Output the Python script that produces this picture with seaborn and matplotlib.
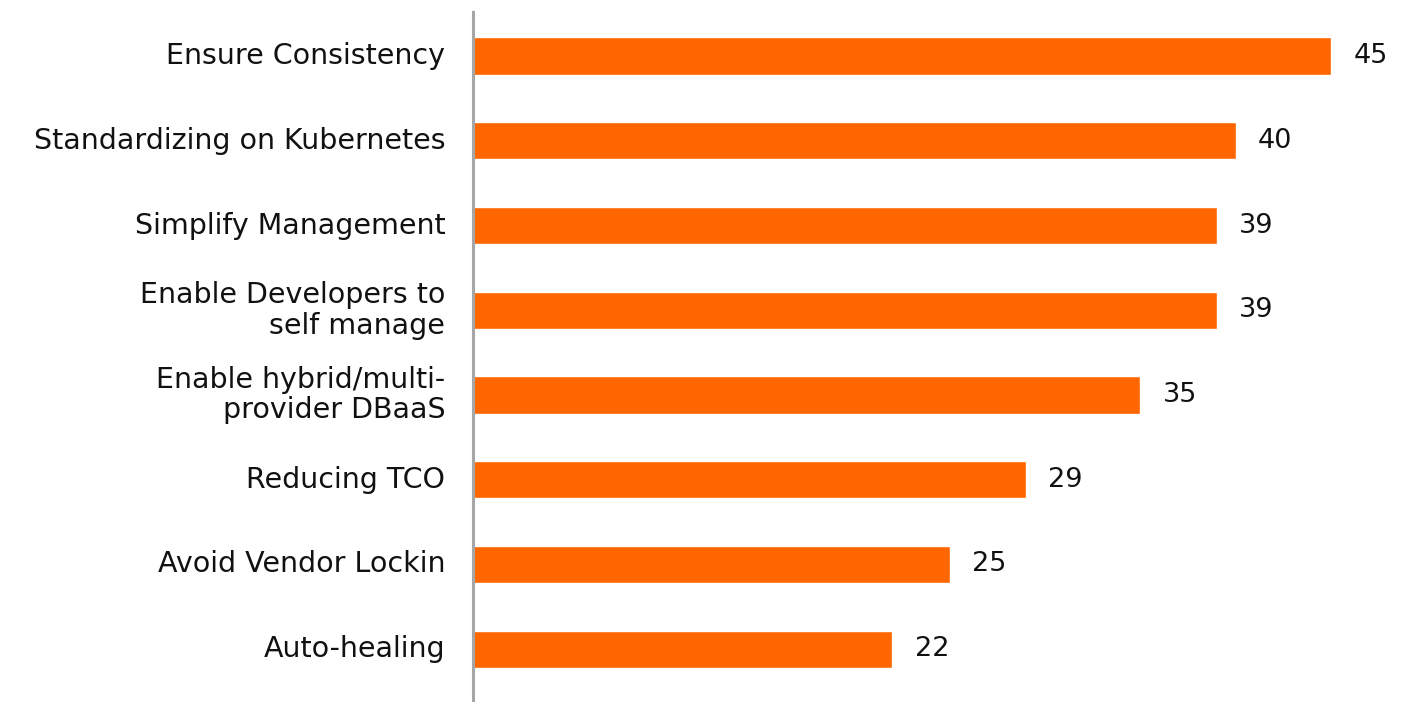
import matplotlib
matplotlib.use("Agg")
import matplotlib.pyplot as plt
import seaborn as sns
import pandas as pd

categories = [
    "Ensure Consistency",
    "Standardizing on Kubernetes",
    "Simplify Management",
    "Enable Developers to\nself manage",
    "Enable hybrid/multi-\nprovider DBaaS",
    "Reducing TCO",
    "Avoid Vendor Lockin",
    "Auto-healing",
]
values = [45, 40, 39, 39, 35, 29, 25, 22]

df = pd.DataFrame({"reason": categories, "count": values})

sns.set_theme(style="white")
plt.rcParams["font.family"] = ["DejaVu Sans"]

fig = plt.figure(figsize=(14.01, 7.02), dpi=100)
ax = fig.add_axes([473 / 1401, 2 / 702, 928 / 1401, 688 / 702])

sns.barplot(data=df, x="count", y="reason", color="#FF6600", saturation=1,
            width=0.44, orient="h", ax=ax)

ax.set_xlim(0, 48.67)
ax.set_ylim(7.60, -0.52)
ax.set_xlabel("")
ax.set_ylabel("")
ax.set_xticks([])
for s in ["top", "right", "bottom"]:
    ax.spines[s].set_visible(False)
ax.spines["left"].set_color("#a6a6a6")
ax.spines["left"].set_linewidth(2.2)
ax.tick_params(axis="y", length=0, pad=20, labelsize=20.5, labelcolor="#111111")
for lbl in ax.get_yticklabels():
    lbl.set_linespacing(1.12)
    lbl.set_va("center")

ax.bar_label(ax.containers[0], labels=[str(v) for v in values], padding=16,
             fontsize=19.5, color="#111111")

fig.savefig("out.png", dpi=100)
